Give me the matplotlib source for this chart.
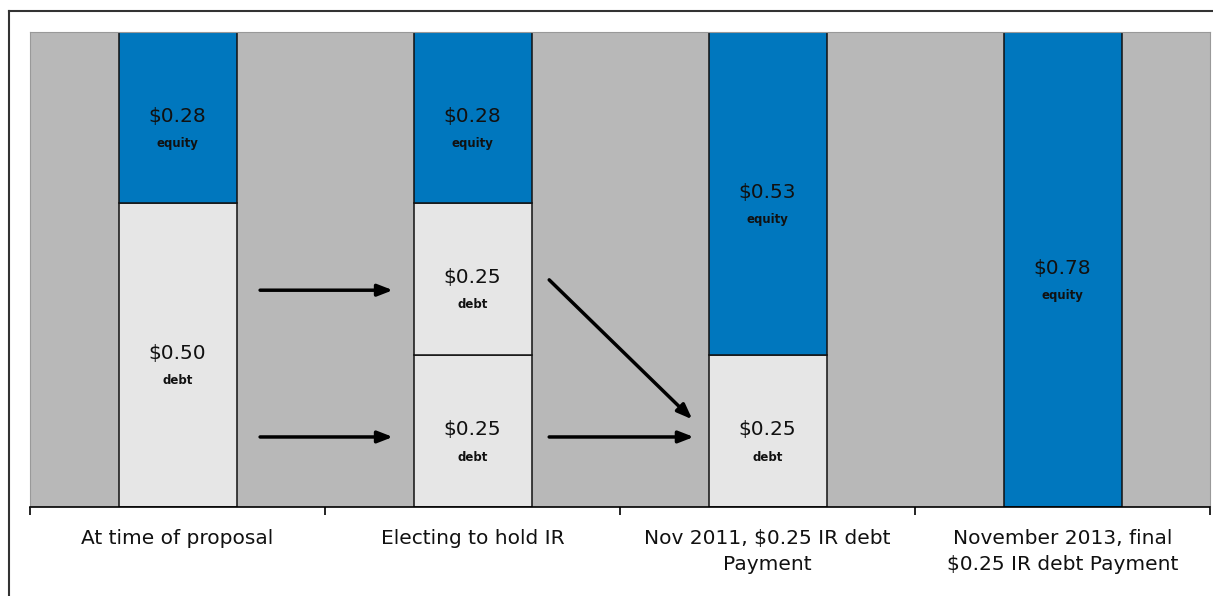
import matplotlib.pyplot as plt
import numpy as np
from matplotlib.lines import Line2D

categories = ['At time of proposal', 'Electing to hold IR',
              'Nov 2011, $0.25 IR debt\nPayment',
              'November 2013, final\n$0.25 IR debt Payment']
# each bar: list of (value, kind) from bottom to top
segments = [
    [(0.50, 'debt'), (0.28, 'equity')],
    [(0.25, 'debt'), (0.25, 'debt'), (0.28, 'equity')],
    [(0.25, 'debt'), (0.53, 'equity')],
    [(0.78, 'equity')],
]
colors = {'debt': '#e6e6e6', 'equity': '#0077be'}

# arrows: (x_start, y_start, x_end, y_end) in data coords
arrows = [
    (0.28, 0.356, 0.73, 0.356),
    (0.28, 0.115, 0.73, 0.115),
    (1.26, 0.115, 1.75, 0.115),
    (1.26, 0.373, 1.745, 0.144),
]

fig = plt.figure(figsize=(12.13, 5.96), dpi=100)
ax = fig.add_axes([30 / 1213, 89 / 596, 1180 / 1213, 475 / 596])
ax.set_facecolor('#b8b8b8')

x = np.arange(len(categories))
width = 0.4
for i, segs in enumerate(segments):
    bottom = 0
    for val, kind in segs:
        ax.bar(x[i], val, width, bottom=bottom, color=colors[kind],
               edgecolor='#111111', linewidth=1.1, zorder=2)
        mid = bottom + val / 2
        ax.text(x[i], mid + 0.002, '$%.2f' % val, ha='center', va='center',
                fontsize=14.5, color='#111111', zorder=3)
        ax.text(x[i], mid - 0.043, kind, ha='center', va='center',
                fontsize=8.5, fontweight='bold', color='#111111', zorder=3)
        bottom += val

for x0, y0, x1, y1 in arrows:
    ax.annotate('', xy=(x1, y1), xytext=(x0, y0),
                arrowprops=dict(arrowstyle='-|>,head_length=0.9,head_width=0.35',
                                color='black', lw=2.5, shrinkA=0, shrinkB=0),
                zorder=4)

ax.set_xlim(-0.5, 3.5)
ax.set_ylim(0, 0.78)
ax.set_yticks([])
ax.set_xticks(x)
ax.set_xticklabels(categories, fontsize=14.5, linespacing=1.45, color='#111111')
ax.tick_params(axis='x', length=0, pad=16)
ax.set_xticks([-0.5, 0.5, 1.5, 2.5, 3.5], minor=True)
ax.tick_params(axis='x', which='minor', length=6, width=1.2, color='black')
for side in ['top', 'left', 'right']:
    ax.spines[side].set_color('#999999')
ax.spines['bottom'].set_color('black')
ax.spines['bottom'].set_linewidth(1.2)

# outer border (left and top only are visible)
fig.add_artist(Line2D([9 / 1213, 9 / 1213], [0, 1 - 11 / 596], color='#333333', lw=1.5))
fig.add_artist(Line2D([9 / 1213, 1], [1 - 11 / 596, 1 - 11 / 596], color='#333333', lw=1.5))

fig.savefig('out.png', dpi=100)
